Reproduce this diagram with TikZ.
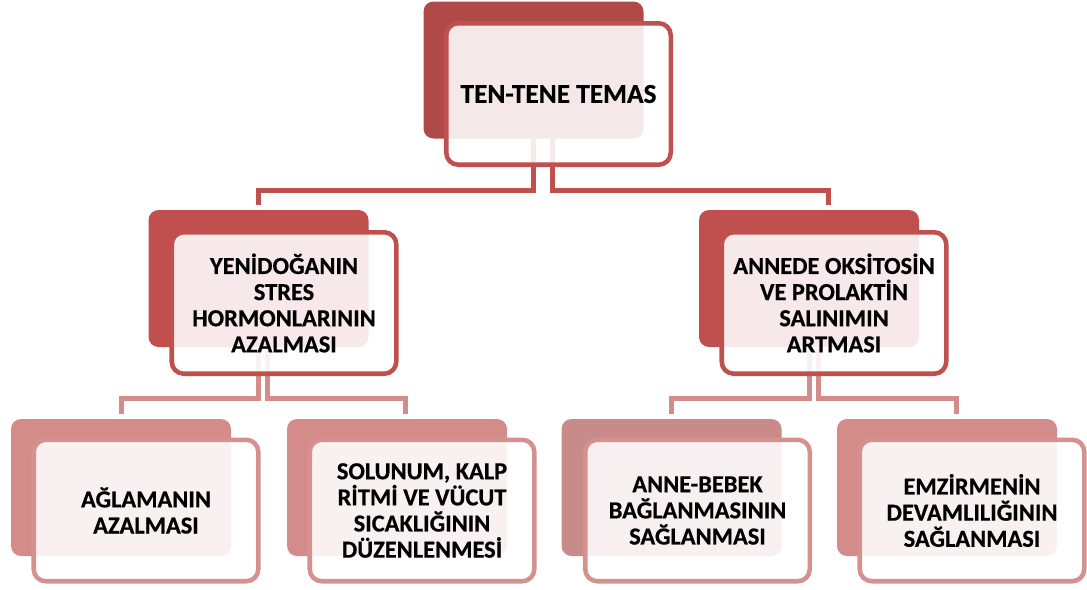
\documentclass[tikz,border=0pt]{standalone}
\usepackage{fontspec}
\setmainfont{Carlito}[BoldFont={Carlito Bold}, BoldFeatures={FakeBold=0.6}]
\usetikzlibrary{positioning}

\definecolor{topBack}{RGB}{176,74,72}
\definecolor{midRed}{RGB}{192,80,77}
\definecolor{lowRed}{RGB}{212,140,138}
\definecolor{lowGrey}{RGB}{201,138,138}
\definecolor{lowLine}{RGB}{212,145,143}

\tikzset{every picture/.style={line width=0.75pt}}
\tikzset{
  backbox/.style={fill=#1, draw=none, rounded corners=7.5pt, minimum width=165pt, minimum height=102.75pt, inner sep=0pt},
  framebox/.style={draw=#1, line width=3.4pt, fill=white, fill opacity=0.88, text opacity=1, rounded corners=9pt,
    minimum width=168.4pt, minimum height=106.1pt, inner sep=0pt, align=center, font=\bfseries\fontsize{18.3}{19.6}\selectfont},
  connTop/.style={draw=midRed, line width=3.75pt, shorten >=3.75pt},
  connMid/.style={draw=lowRed, line width=3.75pt, shorten >=3.75pt},
}

\begin{document}
\begin{tikzpicture}[x=0.75pt,y=0.75pt,yscale=-1,xscale=1]
\useasboundingbox (0,0) rectangle (1087,589);

%Shape: back boxes
\node[backbox=topBack] (tenten-b) at (533.5,70) {};
\node[backbox=midRed] (stres-b) at (258.5,278.5) {};
\node[backbox=midRed] (oksi-b) at (809,278.5) {};
\node[backbox=lowRed] (aglama-b) at (121,487.5) {};
\node[backbox=lowRed] (solunum-b) at (397,487.5) {};
\node[backbox=lowGrey] (bag-b) at (671.5,487.5) {};
\node[backbox=lowRed] (emzir-b) at (947,487.5) {};

%Connectors
\coordinate (bus1) at (0,190);
\coordinate (bus2) at (0,398.5);
\draw[connTop] (tenten-b.south) -- (tenten-b.south |- bus1) -| (stres-b.north);
\draw[connTop] ([xshift=14.6pt]tenten-b.south) -- ([xshift=14.6pt]tenten-b.south |- bus1) -| ([xshift=14.6pt]oksi-b.north);
\draw[connMid] (stres-b.south) -- (stres-b.south |- bus2) -| (aglama-b.north);
\draw[connMid] ([xshift=6.4pt]stres-b.south) -- ([xshift=6.4pt]stres-b.south |- bus2) -| ([xshift=6.4pt]solunum-b.north);
\draw[connMid] (oksi-b.south) -- (oksi-b.south |- bus2) -| (bag-b.north);
\draw[connMid] ([xshift=7pt]oksi-b.south) -- ([xshift=7pt]oksi-b.south |- bus2) -| ([xshift=7pt]emzir-b.north);

% Text Node
\node[framebox=midRed, font=\bfseries\fontsize{20.5}{24}\selectfont] (tenten) at (558.5,94) {TEN-TENE TEMAS};
% Text Node
\node[framebox=midRed] (stres) at (284,303) {YENİDOĞANIN\\STRES\\HORMONLARININ\\AZALMASI};
% Text Node
\node[framebox=midRed] (oksi) at (834,303) {ANNEDE OKSİTOSİN\\VE PROLAKTİN\\SALINIMIN\\ARTMASI};
% Text Node
\node[framebox=lowLine] (aglama) at (146,510.5) {AĞLAMANIN\\AZALMASI};
% Text Node
\node[framebox=lowLine] (solunum) at (422,510.5) {SOLUNUM, KALP\\RİTMİ VE VÜCUT\\SICAKLIĞININ\\DÜZENLENMESİ};
% Text Node
\node[framebox=lowLine] (bag) at (697.5,510.5) {ANNE-BEBEK\\BAĞLANMASININ\\SAĞLANMASI};
% Text Node
\node[framebox=lowLine] (emzir) at (972,510.5) {EMZİRMENİN\\DEVAMLILIĞININ\\SAĞLANMASI};
\end{tikzpicture}
\end{document}
